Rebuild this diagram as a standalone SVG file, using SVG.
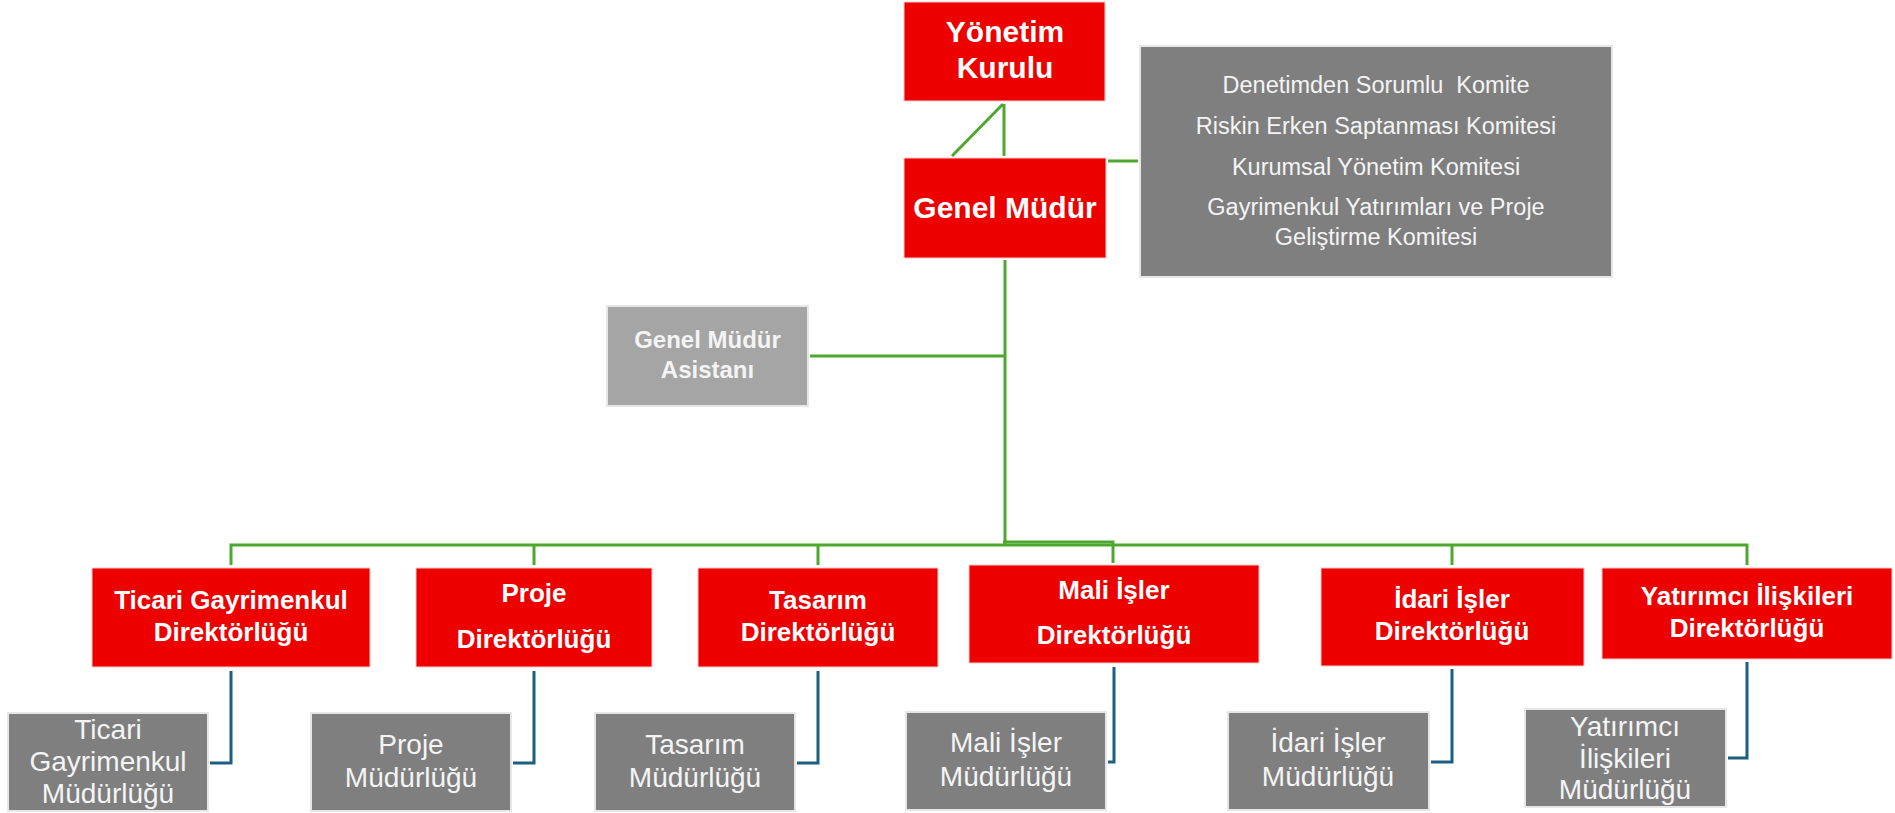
<svg xmlns="http://www.w3.org/2000/svg" width="1895" height="813" viewBox="0 0 1895 813">
<style>
.red{fill:#ee0000;stroke:#f6caca;stroke-width:1}
.gray{fill:#7f7f7f;stroke:#e6e6e6;stroke-width:2}
.lgray{fill:#a5a5a5;stroke:#e6e6e6;stroke-width:2}
.g{fill:none;stroke:#4ea72e;stroke-width:3}
.b{fill:none;stroke:#1d5f80;stroke-width:3}
text{font-family:"Liberation Sans",Arial,sans-serif;fill:#ffffff;text-anchor:middle;white-space:pre}
.tb{font-weight:bold;font-size:30px}
.db{font-weight:bold;font-size:26px}
.ab{font-weight:bold;font-size:24px;fill:#f4f4f4}
.m{font-size:28px;fill:#f4f4f4}
.c{font-size:23.5px;fill:#f4f4f4}
</style>
<rect width="1895" height="813" fill="#ffffff"/>
<g id="connectors">
<path class="g" d="M1004,104 V156 M1003,104 L952,156"/>
<path class="g" d="M1108,161 H1138"/>
<path class="g" d="M1005,260 V546"/>
<path class="g" d="M810,356 H1005"/>
<path class="g" d="M231,565 V545 H1747 V565"/>
<path class="g" d="M534,545 V565 M818,545 V565 M1452,545 V565"/>
<path class="g" d="M1003,542 H1113 V563"/>
<path class="b" d="M231,671 V763 H210"/>
<path class="b" d="M534,671 V763 H513"/>
<path class="b" d="M818,671 V763 H797"/>
<path class="b" d="M1114,667 V762 H1108"/>
<path class="b" d="M1452,669 V762 H1431"/>
<path class="b" d="M1747,662 V758 H1728"/>
</g>
<g id="yonetim-kurulu">
<rect class="red" x="904" y="2" width="201" height="99"/>
<text class="tb" x="1005" y="42">Yönetim</text>
<text class="tb" x="1005" y="78">Kurulu</text>
</g>
<g id="genel-mudur">
<rect class="red" x="904" y="158" width="202" height="100" stroke="#e6e6e6" stroke-width="2"/>
<text class="tb" x="1005" y="218">Genel Müdür</text>
</g>
<g id="komiteler">
<rect class="gray" x="1140" y="46" width="472" height="231"/>
<text class="c" x="1376" y="93">Denetimden Sorumlu  Komite</text>
<text class="c" x="1376" y="134">Riskin Erken Saptanması Komitesi</text>
<text class="c" x="1376" y="175">Kurumsal Yönetim Komitesi</text>
<text class="c" x="1376" y="215">Gayrimenkul Yatırımları ve Proje</text>
<text class="c" x="1376" y="245">Geliştirme Komitesi</text>
</g>
<g id="genel-mudur-asistani">
<rect class="lgray" x="607" y="306" width="201" height="100"/>
<text class="ab" x="707.5" y="348">Genel Müdür</text>
<text class="ab" x="707.5" y="378">Asistanı</text>
</g>
<g id="ticari-dir">
<rect class="red" x="92" y="568" width="278" height="99"/>
<text class="db" x="231" y="609">Ticari Gayrimenkul</text>
<text class="db" x="231" y="641">Direktörlüğü</text>
</g>
<g id="proje-dir">
<rect class="red" x="416" y="568" width="236" height="99"/>
<text class="db" x="534" y="602">Proje</text>
<text class="db" x="534" y="648">Direktörlüğü</text>
</g>
<g id="tasarim-dir">
<rect class="red" x="698" y="568" width="240" height="99"/>
<text class="db" x="818" y="609">Tasarım</text>
<text class="db" x="818" y="641">Direktörlüğü</text>
</g>
<g id="mali-dir">
<rect class="red" x="969" y="565" width="290" height="98"/>
<text class="db" x="1114" y="599">Mali İşler</text>
<text class="db" x="1114" y="644">Direktörlüğü</text>
</g>
<g id="idari-dir">
<rect class="red" x="1321" y="568" width="263" height="98"/>
<text class="db" x="1452" y="608">İdari İşler</text>
<text class="db" x="1452" y="640">Direktörlüğü</text>
</g>
<g id="yatirimci-dir">
<rect class="red" x="1602" y="568" width="290" height="91"/>
<text class="db" x="1747" y="605">Yatırımcı İlişkileri</text>
<text class="db" x="1747" y="637">Direktörlüğü</text>
</g>
<g id="ticari-mud">
<rect class="gray" x="8" y="713" width="200" height="98"/>
<text class="m" x="108" y="739">Ticari</text>
<text class="m" x="108" y="771">Gayrimenkul</text>
<text class="m" x="108" y="803">Müdürlüğü</text>
</g>
<g id="proje-mud">
<rect class="gray" x="311" y="713" width="200" height="98"/>
<text class="m" x="411" y="754">Proje</text>
<text class="m" x="411" y="787">Müdürlüğü</text>
</g>
<g id="tasarim-mud">
<rect class="gray" x="595" y="713" width="200" height="98"/>
<text class="m" x="695" y="754">Tasarım</text>
<text class="m" x="695" y="787">Müdürlüğü</text>
</g>
<g id="mali-mud">
<rect class="gray" x="906" y="712" width="200" height="98"/>
<text class="m" x="1006" y="752">Mali İşler</text>
<text class="m" x="1006" y="786">Müdürlüğü</text>
</g>
<g id="idari-mud">
<rect class="gray" x="1228" y="712" width="201" height="98"/>
<text class="m" x="1328" y="752">İdari İşler</text>
<text class="m" x="1328" y="786">Müdürlüğü</text>
</g>
<g id="yatirimci-mud">
<rect class="gray" x="1525" y="709" width="201" height="98"/>
<text class="m" x="1625" y="736">Yatırımcı</text>
<text class="m" x="1625" y="768">İlişkileri</text>
<text class="m" x="1625" y="799">Müdürlüğü</text>
</g>
</svg>
